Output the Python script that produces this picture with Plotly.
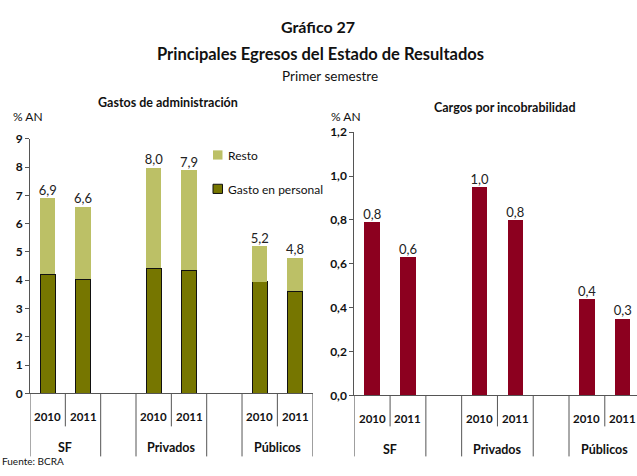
import plotly.graph_objects as go

groups = ["SF", "Privados", "Públicos"]
years = ["2010", "2011"]

# Gastos de administracion (% AN)
personal = [4.21, 4.04, 4.42, 4.35, 3.94, 3.61]
resto = [2.69, 2.56, 3.56, 3.53, 1.26, 1.19]
total_labels = ["6,9", "6,6", "8,0", "7,9", "5,2", "4,8"]

# Cargos por incobrabilidad (% AN)
cargos = [0.79, 0.63, 0.95, 0.80, 0.44, 0.35]
cargos_labels = ["0,8", "0,6", "1,0", "0,8", "0,4", "0,3"]

FONT = "Lato"
W, H = 637, 476
OLIVE = "#767600"
LIGHT = "#bcc066"
RED = "#8c001f"

# slot positions: two years per group, one empty slot between groups
pos = [3 * g + y for g in range(len(groups)) for y in range(len(years))]
totals = [p + r for p, r in zip(personal, resto)]


def py(px):
    # pixel row -> paper y
    return 1 - px / H


fig = go.Figure()

fig.add_trace(go.Bar(
    x=pos, y=personal, name="Gasto en personal",
    marker=dict(color=OLIVE, line=dict(color="#111111", width=1)),
    width=0.43, xaxis="x", yaxis="y",
))
fig.add_trace(go.Bar(
    x=pos, y=resto, name="Resto",
    marker=dict(color=LIGHT, line=dict(width=0)),
    width=0.43, xaxis="x", yaxis="y",
))
fig.add_trace(go.Scatter(
    x=pos, y=totals, mode="text", text=total_labels,
    textposition="top center", textfont=dict(family=FONT, size=13, color="#222"),
    xaxis="x", yaxis="y", cliponaxis=False,
))
fig.add_trace(go.Bar(
    x=pos, y=cargos, marker=dict(color=RED, line=dict(width=0)),
    width=0.43, xaxis="x2", yaxis="y2",
))
fig.add_trace(go.Scatter(
    x=pos, y=cargos, mode="text", text=cargos_labels,
    textposition="top center", textfont=dict(family=FONT, size=13, color="#222"),
    xaxis="x2", yaxis="y2", cliponaxis=False,
))

axis_common = dict(showgrid=False, zeroline=False, showline=True,
                   linecolor="#555", linewidth=1)
tickfont = dict(family=FONT, size=12, color="#111", weight="bold")

fig.update_layout(
    width=W, height=H,
    margin=dict(l=0, r=0, t=0, b=0),
    paper_bgcolor="white", plot_bgcolor="white",
    barmode="stack", showlegend=False,
    font=dict(family=FONT, size=12, color="#222"),
    xaxis=dict(domain=[30 / W, 312.7 / W], range=[-0.5, 7.5],
               showticklabels=False, ticks="", anchor="y", **axis_common),
    yaxis=dict(domain=[py(398), py(135)], range=[0, 9], dtick=1,
               ticks="outside", ticklen=4, tickcolor="#555",
               tickfont=tickfont, anchor="x", **axis_common),
    xaxis2=dict(domain=[354.3 / W, 1.0], range=[-0.5, 7.4],
                showticklabels=False, ticks="", anchor="y2", **axis_common),
    yaxis2=dict(domain=[py(400), py(128.3)], range=[0, 1.2],
                tickvals=[0, 0.2, 0.4, 0.6, 0.8, 1.0, 1.2],
                ticktext=["0,0", "0,2", "0,4", "0,6", "0,8", "1,0", "1,2"],
                ticks="outside", ticklen=4, tickcolor="#555",
                tickfont=tickfont, anchor="x2", **axis_common),
)

shapes = []
# category dividers below the axes
for xr, base in (("x", 398), ("x2", 400)):
    for b in [i - 0.5 for i in range(9)]:
        if xr == "x2" and b > 7.4:
            continue
        short = b in (0.5, 3.5, 6.5)
        shapes.append(dict(type="line", xref=xr, yref="paper", x0=b, x1=b,
                           y0=py(base), y1=py(432 if short else 463),
                           line=dict(color="#555", width=1)))

# legend swatches
shapes.append(dict(type="rect", xref="paper", yref="paper",
                   x0=213 / W, x1=222.5 / W, y0=py(156.5), y1=py(147),
                   fillcolor=LIGHT, line=dict(width=0)))
shapes.append(dict(type="rect", xref="paper", yref="paper",
                   x0=213 / W, x1=222.5 / W, y0=py(191.5), y1=py(182),
                   fillcolor=OLIVE, line=dict(color="#111", width=1)))
fig.update_layout(shapes=shapes)

ann = []
for xr, yr_row, grp_row in (("x", 421.7, 454), ("x2", 424.3, 455.7)):
    for g, gname in enumerate(groups):
        for j, yname in enumerate(years):
            ann.append(dict(x=3 * g + j, y=py(yr_row), xref=xr, yref="paper",
                            text=f"<b>{yname}</b>", showarrow=False,
                            yanchor="middle",
                            font=dict(family=FONT, size=11.5, color="#111")))
        ann.append(dict(x=3 * g + 0.5, y=py(grp_row), xref=xr, yref="paper",
                        text=f"<b>{gname}</b>", showarrow=False,
                        yanchor="middle",
                        font=dict(family=FONT, size=12.5, color="#111")))

texts = [
    ("<b>Gráfico 27</b>", 318, 19, 16, "center"),
    ("<b>Principales Egresos del Estado de Resultados</b>", 320, 47, 16.5, "center"),
    ("Primer semestre", 330, 70, 13.5, "center"),
    ("<b>Gastos de administración</b>", 168, 98, 12.5, "center"),
    ("<b>Cargos por incobrabilidad</b>", 505, 103, 12.5, "center"),
    ("% AN", 11, 112, 12, "left"),
    ("% AN", 329, 112, 12, "left"),
    ("Resto", 226, 152, 12, "left"),
    ("Gasto en personal", 226, 187, 12, "left"),
    ("Fuente: BCRA", 0, 468, 10, "left"),
]
for txt, x, y, size, xa in texts:
    ann.append(dict(x=x / W, y=py(y), xref="paper", yref="paper", text=txt,
                    showarrow=False, xanchor=xa, yanchor="middle",
                    font=dict(family=FONT, size=size, color="#111")))
fig.update_layout(annotations=ann)

fig.write_html("out.html", post_script="document.body.style.margin='0';",
               config={"displayModeBar": False})
